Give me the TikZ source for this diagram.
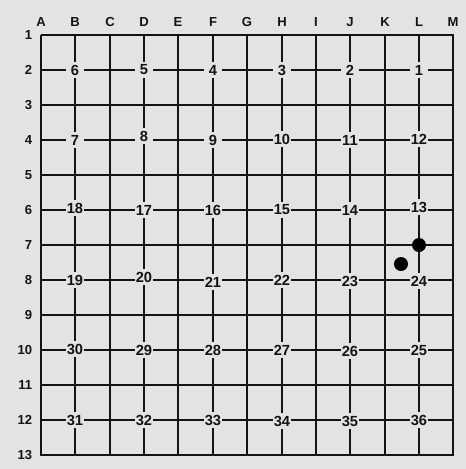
\documentclass[tikz,border=0pt]{standalone}
\usepackage{fontspec}
\setmainfont{Liberation Sans}
\definecolor{bg}{HTML}{E3E3E3}
\definecolor{ink}{HTML}{141414}
\begin{document}
\begin{tikzpicture}[x=0.75pt,y=-0.75pt,
  gridline/.style={line width=1.5pt,ink},
  hdr/.style={text=ink,font=\fontsize{9.8}{11}\selectfont\bfseries,inner sep=0pt},
  num/.style={text=ink,fill=bg,font=\fontsize{11}{12}\selectfont\bfseries,inner sep=0.4pt,minimum width=13pt,minimum height=12pt},
  stone/.style={circle,fill=black,draw=none,minimum size=10.5pt,inner sep=0pt}]
\fill[bg] (0,0) rectangle (466,469);
\useasboundingbox (0,0) rectangle (466,469);
\def\colx{{41,75,110,144,178,213,247,282,316,350,385,419,453}}
% grid
\foreach \i in {0,...,12}
  \draw[gridline] ({\colx[\i]},34.5) -- ({\colx[\i]},455.5);
\foreach \j in {0,...,12}
  \draw[gridline] (40.5,{35+35*\j}) -- (453.5,{35+35*\j});
% column headers
\foreach \L [count=\i from 0] in {A,B,C,D,E,F,G,H,I,J,K,L,M}
  \node[hdr] (c\L) at ({\colx[\i]},22) {\L};
% row headers
\foreach \r in {1,...,13}
  \node[hdr,anchor=east] (r\r) at (32.5,{35+35*(\r-1)}) {\r};
% numbered points
\foreach \n/\i/\j/\dy in {
  6/1/1/0, 5/3/1/0, 4/5/1/0, 3/7/1/0, 2/9/1/0, 1/11/1/0,
  7/1/3/0, 8/3/3/-4, 9/5/3/0, 10/7/3/-1, 11/9/3/0, 12/11/3/-1,
  18/1/5/-2, 17/3/5/0, 16/5/5/0, 15/7/5/0, 14/9/5/0, 13/11/5/-3,
  19/1/7/0, 20/3/7/-3, 21/5/7/2, 22/7/7/0, 23/9/7/1, 24/11/7/1,
  30/1/9/-1, 29/3/9/0, 28/5/9/0, 27/7/9/0, 26/9/9/1, 25/11/9/0,
  31/1/11/0, 32/3/11/0, 33/5/11/0, 34/7/11/1, 35/9/11/1, 36/11/11/0}
  \node[num] (n\n) at ({\colx[\i]},{35+35*\j+\dy}) {\n};
% stones
\node[stone] (s1) at (419,245) {};
\node[stone] (s2) at (401,264) {};
\end{tikzpicture}
\end{document}
